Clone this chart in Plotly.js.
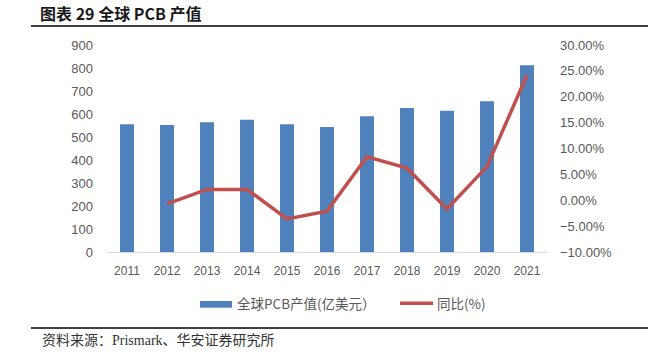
<!DOCTYPE html>
<html>
<head>
<meta charset="utf-8">
<script src="https://cdn.plot.ly/plotly-3.0.1.min.js"></script>
<style>html,body{margin:0;padding:0;background:#fff;}#chart{width:661px;height:357px;}</style>
</head>
<body>
<div id="chart"></div>
<script>
const years = ['2011','2012','2013','2014','2015','2016','2017','2018','2019','2020','2021'];
const pcbValue = [555, 552, 564, 575, 555, 543, 590, 626, 614, 655, 812];
const yoyPct = [null, -0.007, 0.021, 0.021, -0.036, -0.021, 0.084, 0.062, -0.017, 0.065, 0.242];
const barName = '全球PCB产值(亿美元）';
const lineName = '同比(%)';

const W = 661, H = 357, L = 107, R = 547, T = 45, B = 252;
const px = x => (x - L) / (R - L);
const py = y => (B - y) / (B - T);

const yTickFont = {family: 'Liberation Sans, Noto Sans CJK SC', size: 13, color: '#595959'};
const xTickFont = {family: 'Liberation Sans, Noto Sans CJK SC', size: 12, color: '#595959'};
const legFont = {family: 'Noto Sans CJK SC, Liberation Sans', size: 13.5, color: '#595959'};

const traces = [
  {type: 'bar', x: years, y: pcbValue, name: barName, marker: {color: '#4F81BD'}, width: 0.35, yaxis: 'y'},
  {type: 'scatter', mode: 'lines', x: years, y: yoyPct, name: lineName, line: {color: '#C0504D', width: 3.5}, yaxis: 'y2', connectgaps: false}
];

const layout = {
  width: W, height: H,
  margin: {l: L, r: W - R, t: T, b: H - B},
  paper_bgcolor: '#fff', plot_bgcolor: '#fff',
  showlegend: false,
  title: {text: '<b>图表 29 全球 PCB 产值</b>', x: 40 / W, xanchor: 'left', y: 1 - 14.5 / H, yanchor: 'middle',
          font: {family: 'Noto Sans CJK SC, Liberation Sans', size: 16, color: '#1a1a1a'}},
  xaxis: {type: 'category', showline: true, linecolor: '#d9d9d9', linewidth: 1, showgrid: false, ticks: '', tickfont: xTickFont, zeroline: false, ticklabelstandoff: 8},
  yaxis: {range: [0, 900], dtick: 100, showgrid: false, showline: false, zeroline: false, ticks: '', tickfont: yTickFont, ticklabelstandoff: 13},
  yaxis2: {range: [-0.1, 0.3], dtick: 0.05, tickformat: '.2%', overlaying: 'y', side: 'right', showgrid: false, showline: false, zeroline: false, ticks: '', tickfont: yTickFont, ticklabelstandoff: 12},
  shapes: [
    {type: 'line', xref: 'paper', yref: 'paper', x0: px(31), x1: px(648), y0: py(26), y1: py(26), line: {color: '#000', width: 1.3}},
    {type: 'line', xref: 'paper', yref: 'paper', x0: px(31), x1: px(648), y0: py(328), y1: py(328), line: {color: '#000', width: 1.3}},
    {type: 'rect', xref: 'paper', yref: 'paper', x0: px(200), x1: px(232), y0: py(301), y1: py(307.7), fillcolor: '#4F81BD', line: {width: 0}},
    {type: 'line', xref: 'paper', yref: 'paper', x0: px(400), x1: px(433), y0: py(303.3), y1: py(303.3), line: {color: '#C0504D', width: 3.5}}
  ],
  annotations: [
    {xref: 'paper', yref: 'paper', x: px(235), y: py(302.5), xanchor: 'left', yanchor: 'middle', text: barName, showarrow: false, font: legFont},
    {xref: 'paper', yref: 'paper', x: px(435), y: py(302.5), xanchor: 'left', yanchor: 'middle', text: lineName, showarrow: false, font: legFont},
    {xref: 'paper', yref: 'paper', x: px(40), y: py(340), xanchor: 'left', yanchor: 'middle', text: '资料来源：Prismark、华安证券研究所', showarrow: false, font: {family: 'Liberation Serif, Noto Sans CJK SC', size: 14, color: '#333'}}
  ]
};

Plotly.newPlot('chart', traces, layout, {displayModeBar: false, staticPlot: true});
</script>
</body>
</html>
